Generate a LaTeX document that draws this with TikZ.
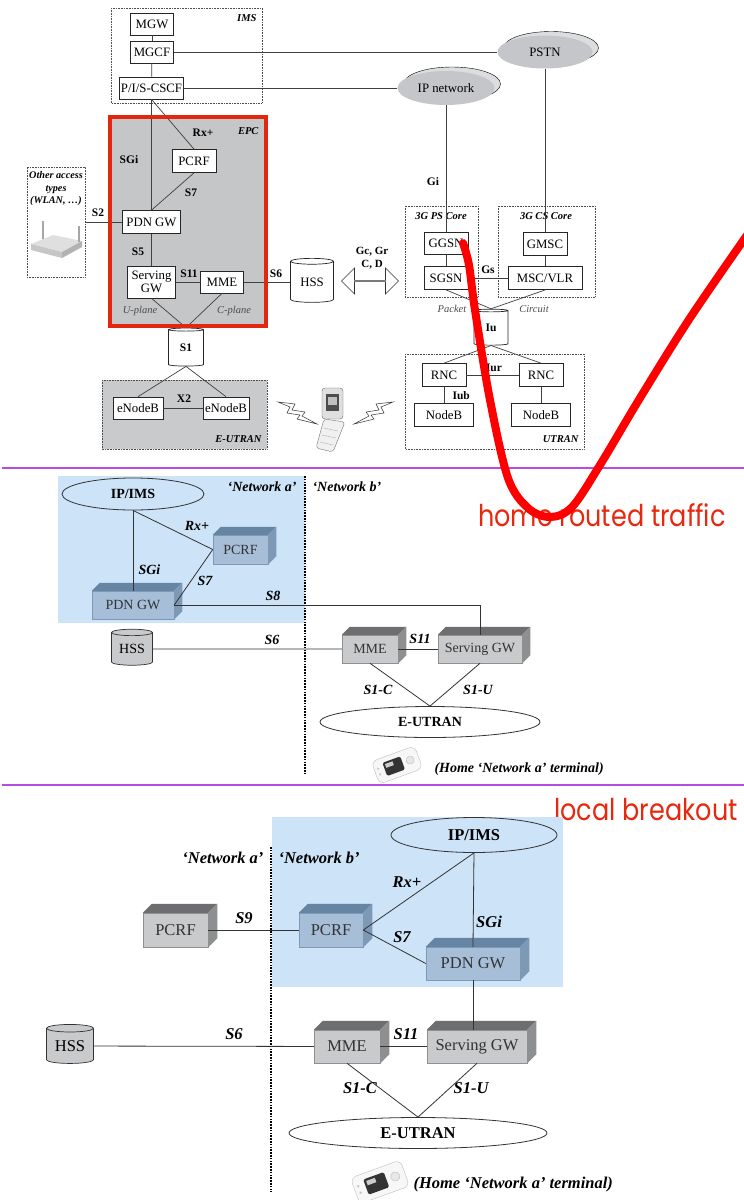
\documentclass[tikz,border=0pt]{standalone}
\usepackage{fontspec}
\setmainfont{Liberation Serif}
\newfontfamily\notefont[FakeStretch=0.85]{Poppins}
\usetikzlibrary{calc,positioning,shapes.geometric,shapes.arrows,shadows}

\definecolor{epcgrey}{HTML}{C5C6C8}
\definecolor{epcred}{HTML}{E3260E}
\definecolor{cloudgrey}{HTML}{C4C6C9}
\definecolor{cloudpale}{HTML}{DCDDDF}
\definecolor{areablue}{HTML}{CCE3F8}
\definecolor{cubeblue}{HTML}{A6BED8}
\definecolor{cubebluetop}{HTML}{6685A3}
\definecolor{cubeblueside}{HTML}{7D99B5}
\definecolor{cubegrey}{HTML}{C9CACC}
\definecolor{cubegreytop}{HTML}{6E6E70}
\definecolor{cubegreyside}{HTML}{8E8F91}
\definecolor{rulepurple}{HTML}{B84BE4}
\definecolor{notered}{HTML}{E8280E}

\newcommand{\fsz}[1]{\fontsize{#1}{#1}\selectfont}
\newcommand{\cubedepth}{8}
% top and right faces of a 3d box node
\newcommand{\cubefaces}[3]{%
  \fill[#2] (#1.north west) -- ++(\cubedepth,-\cubedepth) -- ($(#1.north east)+(\cubedepth,-\cubedepth)$) -- (#1.north east) -- cycle;
  \fill[#3] (#1.north east) -- ($(#1.north east)+(\cubedepth,-\cubedepth)$) -- ($(#1.south east)+(\cubedepth,-\cubedepth)$) -- (#1.south east) -- cycle;}
% small handheld terminal
\newcommand{\handheld}[2]{%
  \begin{scope}[shift={#1}, rotate=20, scale=#2]
    \draw[gray!50, fill=gray!6, rounded corners=6] (-23,-12) rectangle (23,12);
    \fill[black!80, rounded corners=1.5] (-13,-7) rectangle (6,7);
    \fill[gray!40] (-11,-5) rectangle (-3,-1);
    \draw[gray!55, fill=gray!18] (14,0) circle (4);
    \fill[gray!45] (-19,-3) circle (1.2) (-19,3) circle (1.2);
  \end{scope}}
% radio link symbol
\newcommand{\bolt}[2]{%
  \draw[black!80, fill=white, line width=0.5pt, shift={#1}, xscale=#2]
    (0,0) -- (17,2) -- (14,8) -- (27,10) -- (24,14) -- (39,22) -- (19,17) -- (22,13) -- (9,11) -- (12,5) -- cycle;}

\begin{document}
\begin{tikzpicture}[x=1pt, y=-1pt,
  ent/.style={draw=black!85, fill=white, line width=0.7pt, inner sep=0pt, font=\fsz{12.8}},
  link/.style={draw=black!75, line width=0.7pt},
  area/.style={draw=black!70, densely dotted, line width=0.6pt},
  tag/.style={font=\bfseries\itshape\fsz{10.5}},
  ifl/.style={font=\bfseries\fsz{11.5}},
  plane/.style={font=\itshape\fsz{10.5}, text=black!70},
  cyl/.style={cylinder, shape border rotate=90, aspect=0.25, draw=black!85, fill=white, line width=0.7pt, inner sep=0pt, font=\fsz{12.8}},
  cloud/.style={ellipse, fill=cloudgrey, inner sep=0pt, font=\fsz{12.8},
    copy shadow={shadow xshift=6pt, shadow yshift=4pt, fill=cloudpale}},
  bluecube/.style={fill=cubeblue, draw=cubeblueside, line width=0.5pt, inner sep=0pt, text=black!80, font=\fsz{\secsize}},
  greycube/.style={fill=cubegrey, draw=cubegreyside, line width=0.5pt, inner sep=0pt, text=black!80, font=\fsz{\secsize}},
  greycyl/.style={cylinder, shape border rotate=90, aspect=0.25, draw=black!80, fill=cubegrey, line width=0.7pt, inner sep=0pt, font=\fsz{\secsize}},
  net/.style={ellipse, draw=black!80, line width=0.8pt, inner sep=0pt, font=\bfseries\fsz{\secsize}},
  ifc/.style={font=\bfseries\itshape\fsz{\secsize}},
  wire/.style={draw=black!80, line width=0.8pt},
  split/.style={line width=1.8pt, dash pattern=on 1.6pt off 1.2pt},
  rule/.style={draw=rulepurple, line width=2.6pt},
  note/.style={text=notered, font=\notefont\fsz{30}},
  homeroute/.style={draw=red, line width=8pt, line cap=round}]

\useasboundingbox (0,0) rectangle (744,1200);
\fill[white] (0,0) rectangle (744,1200);

% ---------------- EPC and legacy cores ----------------
\draw[area] (111,8) rectangle (262,103);
\node[tag, anchor=north east] at (260,11) {IMS};
\node[ent, minimum width=43, minimum height=22] (mgw) at (152,24) {MGW};
\node[ent, minimum width=43, minimum height=22] (mgcf) at (152,52) {MGCF};
\node[ent, minimum width=64, minimum height=22] (cscf) at (151.5,88) {P/I/S-CSCF};
\node[cloud, minimum width=95, minimum height=33] (pstn) at (545,52) {PSTN};
\node[cloud, minimum width=97, minimum height=34] (ipnet) at (446,88) {IP network};
\draw[link] (mgw) -- (mgcf);
\draw[link] (mgcf) -- (cscf);
\draw[link] (mgcf) -- (pstn);
\draw[link] (cscf) -- (ipnet);

% EPC
\fill[epcgrey] (110,117) rectangle (266,326);
\node[tag, anchor=north east] at (262,124) {EPC};
\node[ent, minimum width=44, minimum height=23] (pcrf) at (194,161) {PCRF};
\node[ent, minimum width=58, minimum height=23] (pgw) at (151.5,222) {PDN GW};
\node[ent, minimum width=48, minimum height=32, align=center, font=\fontsize{12.8}{13.5}\selectfont] (sgw) at (151.5,282) {Serving\\GW};
\node[ent, minimum width=43, minimum height=22] (mme) at (222,282) {MME};
\node[cyl, minimum width=43, minimum height=44] (hss) at (312,282) {HSS};
\draw[link] (cscf.south) -- (pgw.north);
\node[ifl] at (129,160) {SGi};
\draw[link] (cscf.south) -- (pcrf.north);
\node[ifl] at (203,133) {Rx+};
\draw[link] (pcrf.south) -- (pgw.north);
\node[ifl] at (191,193) {S7};
\draw[link] (pgw) -- (sgw);
\node[ifl] at (138,252) {S5};
\draw[link] (sgw) -- (mme);
\node[ifl] at (189,274) {S11};
\draw[link] (mme) -- (hss);
\node[ifl] at (276,274) {S6};
\node[plane] at (140,311) {U-plane};
\node[plane] at (234,311) {C-plane};

% other access
\node[area, minimum width=58, minimum height=110] (other) at (56,222) {};
\node[tag, align=center, font=\bfseries\itshape\fontsize{10.2}{12.5}\selectfont] at (56,189) {Other access\\types\\(WLAN, …)};
\fill[gray!25] (31,244) -- (53,235) -- (82,241) -- (62,252) -- cycle;
\fill[gray!45] (31,244) -- (62,252) -- (62,258) -- (31,250) -- cycle;
\fill[gray!60] (62,252) -- (82,241) -- (82,247) -- (62,258) -- cycle;
\draw[gray!70, line width=1.6pt] (43,239) -- (43,221);
\draw[gray!70, line width=1.6pt] (79,242) -- (79,226);
\draw[link] (other.east |- pgw.west) -- (pgw.west);
\node[ifl] at (98,213) {S2};

% S1 towards E-UTRAN
\node[cyl, minimum width=35, minimum height=38, font=\bfseries\fsz{11.5}] (s1) at (186,348) {S1};
\draw[link] (sgw.south) -- (s1.north);
\draw[link] (mme.south) -- (s1.north);
\draw[epcred, line width=4.5pt] (110,117) rectangle (266,326);

\draw[area, fill=cubegrey] (102,380) rectangle (267,449);
\node[tag, anchor=south east] at (265,446) {E-UTRAN};
\node[ent, minimum width=50, minimum height=22] (enba) at (138,408) {eNodeB};
\node[ent, minimum width=46, minimum height=22] (enbb) at (226,408) {eNodeB};
\draw[link] (enba) -- (enbb);
\node[ifl] at (184,399) {X2};
\draw[link] (s1.south) -- (enba.north);
\draw[link] (s1.south) -- (enbb.north);

\node[double arrow, draw=black!80, line width=0.6pt, fill=white, minimum width=26, minimum height=57, double arrow head extend=5.5, inner sep=0pt] (gx) at (370,281) {};
\node[ifl, align=center, font=\bfseries\fontsize{11}{12.5}\selectfont] at (372,258) {Gc, Gr\\C, D};

% radio side
\bolt{(278,402)}{1}
\bolt{(393,402)}{-1}
\draw[black!60, fill=gray!25, rounded corners=3] (322,388) rectangle (343,419);
\fill[black!70] (326,394) rectangle (339,411);
\fill[gray!50] (328,397) rectangle (337,405);
\draw[black!55, fill=gray!12, rounded corners=3] (324,419) -- (345,422) -- (333,452) -- (316,448) -- cycle;
\draw[gray!60] (324,428) -- (338,431) (322,435) -- (336,438) (320,442) -- (333,445);

% 3G cores
\draw[area] (405,206) rectangle (478,297);
\node[tag] at (441,216) {3G PS Core};
\draw[area] (498,206) rectangle (595,297);
\node[tag] at (546,216) {3G CS Core};
\node[ent, minimum width=44, minimum height=22] (ggsn) at (446,243) {GGSN};
\node[ent, minimum width=44, minimum height=23] (sgsn) at (446,278) {SGSN};
\node[ent, minimum width=44, minimum height=23] (gmsc) at (545,244) {GMSC};
\node[ent, minimum width=74, minimum height=23, line width=1pt] (msc) at (545,278) {MSC/VLR};
\draw[link] (ipnet) -- (ggsn);
\node[ifl] at (433,182) {Gi};
\draw[link] (pstn) -- (gmsc);
\draw[link] (ggsn) -- (sgsn);
\draw[link] (gmsc) -- (msc);
\draw[link] (sgsn) -- (msc);
\node[ifl] at (488,270) {Gs};
\node[plane] at (452,309) {Packet};
\node[plane] at (534,309) {Circuit};
\node[cyl, minimum width=34, minimum height=36, font=\bfseries\fsz{11.5}] (iu) at (491,328) {Iu};
\draw[link] (sgsn.south) -- (iu.north);
\draw[link] (msc.south) -- (iu.north);

\draw[area] (405,354) rectangle (584,449);
\node[tag, anchor=south east] at (582,446) {UTRAN};
\node[ent, minimum width=44, minimum height=23] (rnca) at (444,375) {RNC};
\node[ent, minimum width=44, minimum height=23] (rncb) at (541,375) {RNC};
\node[ent, minimum width=59, minimum height=23] (nba) at (444,415) {NodeB};
\node[ent, minimum width=59, minimum height=23] (nbb) at (541,415) {NodeB};
\draw[link] (rnca) -- (rncb);
\node[ifl] at (494,368) {Iur};
\draw[link] (rnca) -- (nba);
\node[ifl, anchor=west] at (449,396) {Iub};
\draw[link] (rncb) -- (nbb);
\draw[link] (iu.south) -- (rnca.north);
\draw[link] (iu.south) -- (rncb.north);

% ---------------- home routed ----------------
\draw[rule] (2,468) -- (744,468);
\node[note] at (602,515) {home routed traffic};
\draw[homeroute] plot[smooth, tension=0.55] coordinates {(463,243) (469,265) (475,310) (490,400) (508,478) (528,508) (550,517) (572,507) (600,465) (640,398) (690,318) (752,228)};

\def\secsize{14}
\fill[areablue] (58,476) rectangle (305,623);
\node[net, minimum width=142, minimum height=32] (imsa) at (133,494) {IP/IMS};
\node[bluecube, minimum width=55, minimum height=29] (pcrfa) at (240.5,549.5) {PCRF};
\node[bluecube, minimum width=82, minimum height=28] (pgwa) at (133,605) {PDN GW};
\cubefaces{pcrfa}{cubebluetop}{cubeblueside}
\cubefaces{pgwa}{cubebluetop}{cubeblueside}
\node[ifc, anchor=east] at (300,487) {‘Network a’};
\node[ifc, anchor=west] at (309,487) {‘Network b’};
\draw[split] (305,476) -- (305,775);

\node[greycyl, minimum width=41, minimum height=36] (hssa) at (132,649) {HSS};
\node[greycube, minimum width=56, minimum height=28] (mmea) at (370,649) {MME};
\node[greycube, minimum width=84, minimum height=28] (sgwa) at (480,649) {Serving GW};
\cubefaces{mmea}{cubegreytop}{cubegreyside}
\cubefaces{sgwa}{cubegreytop}{cubegreyside}
\node[net, minimum width=220, minimum height=31] (euta) at (430,722) {E-UTRAN};

\draw[wire] (imsa.south) -- (pgwa.north);
\node[ifc, anchor=west] at (135,570) {SGi};
\draw[wire] (imsa.south) -- (pcrfa.west);
\node[ifc] at (197,526) {Rx+};
\draw[wire] (pcrfa.west) -- (pgwa.east);
\node[ifc] at (205,581) {S7};
\draw[wire] (pgwa.east) -| (sgwa.north);
\node[ifc] at (273,596) {S8};
\draw[wire] (hssa) -- (mmea);
\node[ifc] at (272,640) {S6};
\draw[wire] (mmea) -- (sgwa);
\node[ifc] at (420,639) {S11};
\draw[wire] (mmea.south) -- (euta.north);
\node[ifc] at (378,690) {S1-C};
\draw[wire] (sgwa.south) -- (euta.north);
\node[ifc] at (478,690) {S1-U};
\handheld{(397,765)}{1}
\node[ifc, anchor=west] at (431,769) {(Home ‘Network a’ terminal)};

% ---------------- local breakout ----------------
\draw[rule] (2,785) -- (744,785);
\node[note] at (646,810) {local breakout};

\def\secsize{16.5}
\renewcommand{\cubedepth}{9}
\fill[areablue] (272,817) rectangle (563,987);
\node[net, minimum width=166, minimum height=35] (imsb) at (474,835) {IP/IMS};
\node[ifc, anchor=east] at (267,858) {‘Network a’};
\node[ifc, anchor=west] at (275,858) {‘Network b’};
\draw[split] (271,847) -- (271,1192);

\node[greycube, minimum width=65, minimum height=34] (pcrfl) at (175.5,930) {PCRF};
\node[bluecube, minimum width=64, minimum height=34] (pcrfb) at (331,930) {PCRF};
\node[bluecube, minimum width=94, minimum height=33] (pgwb) at (473,963.5) {PDN GW};
\cubefaces{pcrfl}{cubegreytop}{cubegreyside}
\cubefaces{pcrfb}{cubebluetop}{cubeblueside}
\cubefaces{pgwb}{cubebluetop}{cubeblueside}

\node[greycyl, minimum width=47, minimum height=39] (hssb) at (70,1046) {HSS};
\node[greycube, minimum width=66, minimum height=33] (mmeb) at (347,1046.5) {MME};
\node[greycube, minimum width=100, minimum height=33] (sgwb) at (477,1046.5) {Serving GW};
\cubefaces{mmeb}{cubegreytop}{cubegreyside}
\cubefaces{sgwb}{cubegreytop}{cubegreyside}
\node[net, minimum width=258, minimum height=31] (eutb) at (418,1133) {E-UTRAN};

\draw[wire] (pcrfl) -- (pcrfb);
\node[ifc] at (244,918) {S9};
\draw[wire] (pcrfb.east) -- (imsb.south);
\node[ifc] at (407,882) {Rx+};
\draw[wire] (pcrfb.east) -- (pgwb.west);
\node[ifc] at (402,937) {S7};
\draw[wire] (imsb.south) -- (pgwb.north);
\node[ifc] at (489,922) {SGi};
\draw[wire] (pgwb.south) -- (pgwb.south |- sgwb.north);
\draw[wire] (hssb) -- (mmeb);
\node[ifc] at (234,1034) {S6};
\draw[wire] (mmeb) -- (sgwb);
\node[ifc] at (406,1034) {S11};
\draw[wire] (mmeb.south) -- (eutb.north);
\node[ifc] at (360,1088) {S1-C};
\draw[wire] (sgwb.south) -- (eutb.north);
\node[ifc] at (471,1088) {S1-U};
\handheld{(380,1182)}{1.15}
\node[ifc, anchor=west] at (410,1185) {(Home ‘Network a’ terminal)};

\end{tikzpicture}
\end{document}
